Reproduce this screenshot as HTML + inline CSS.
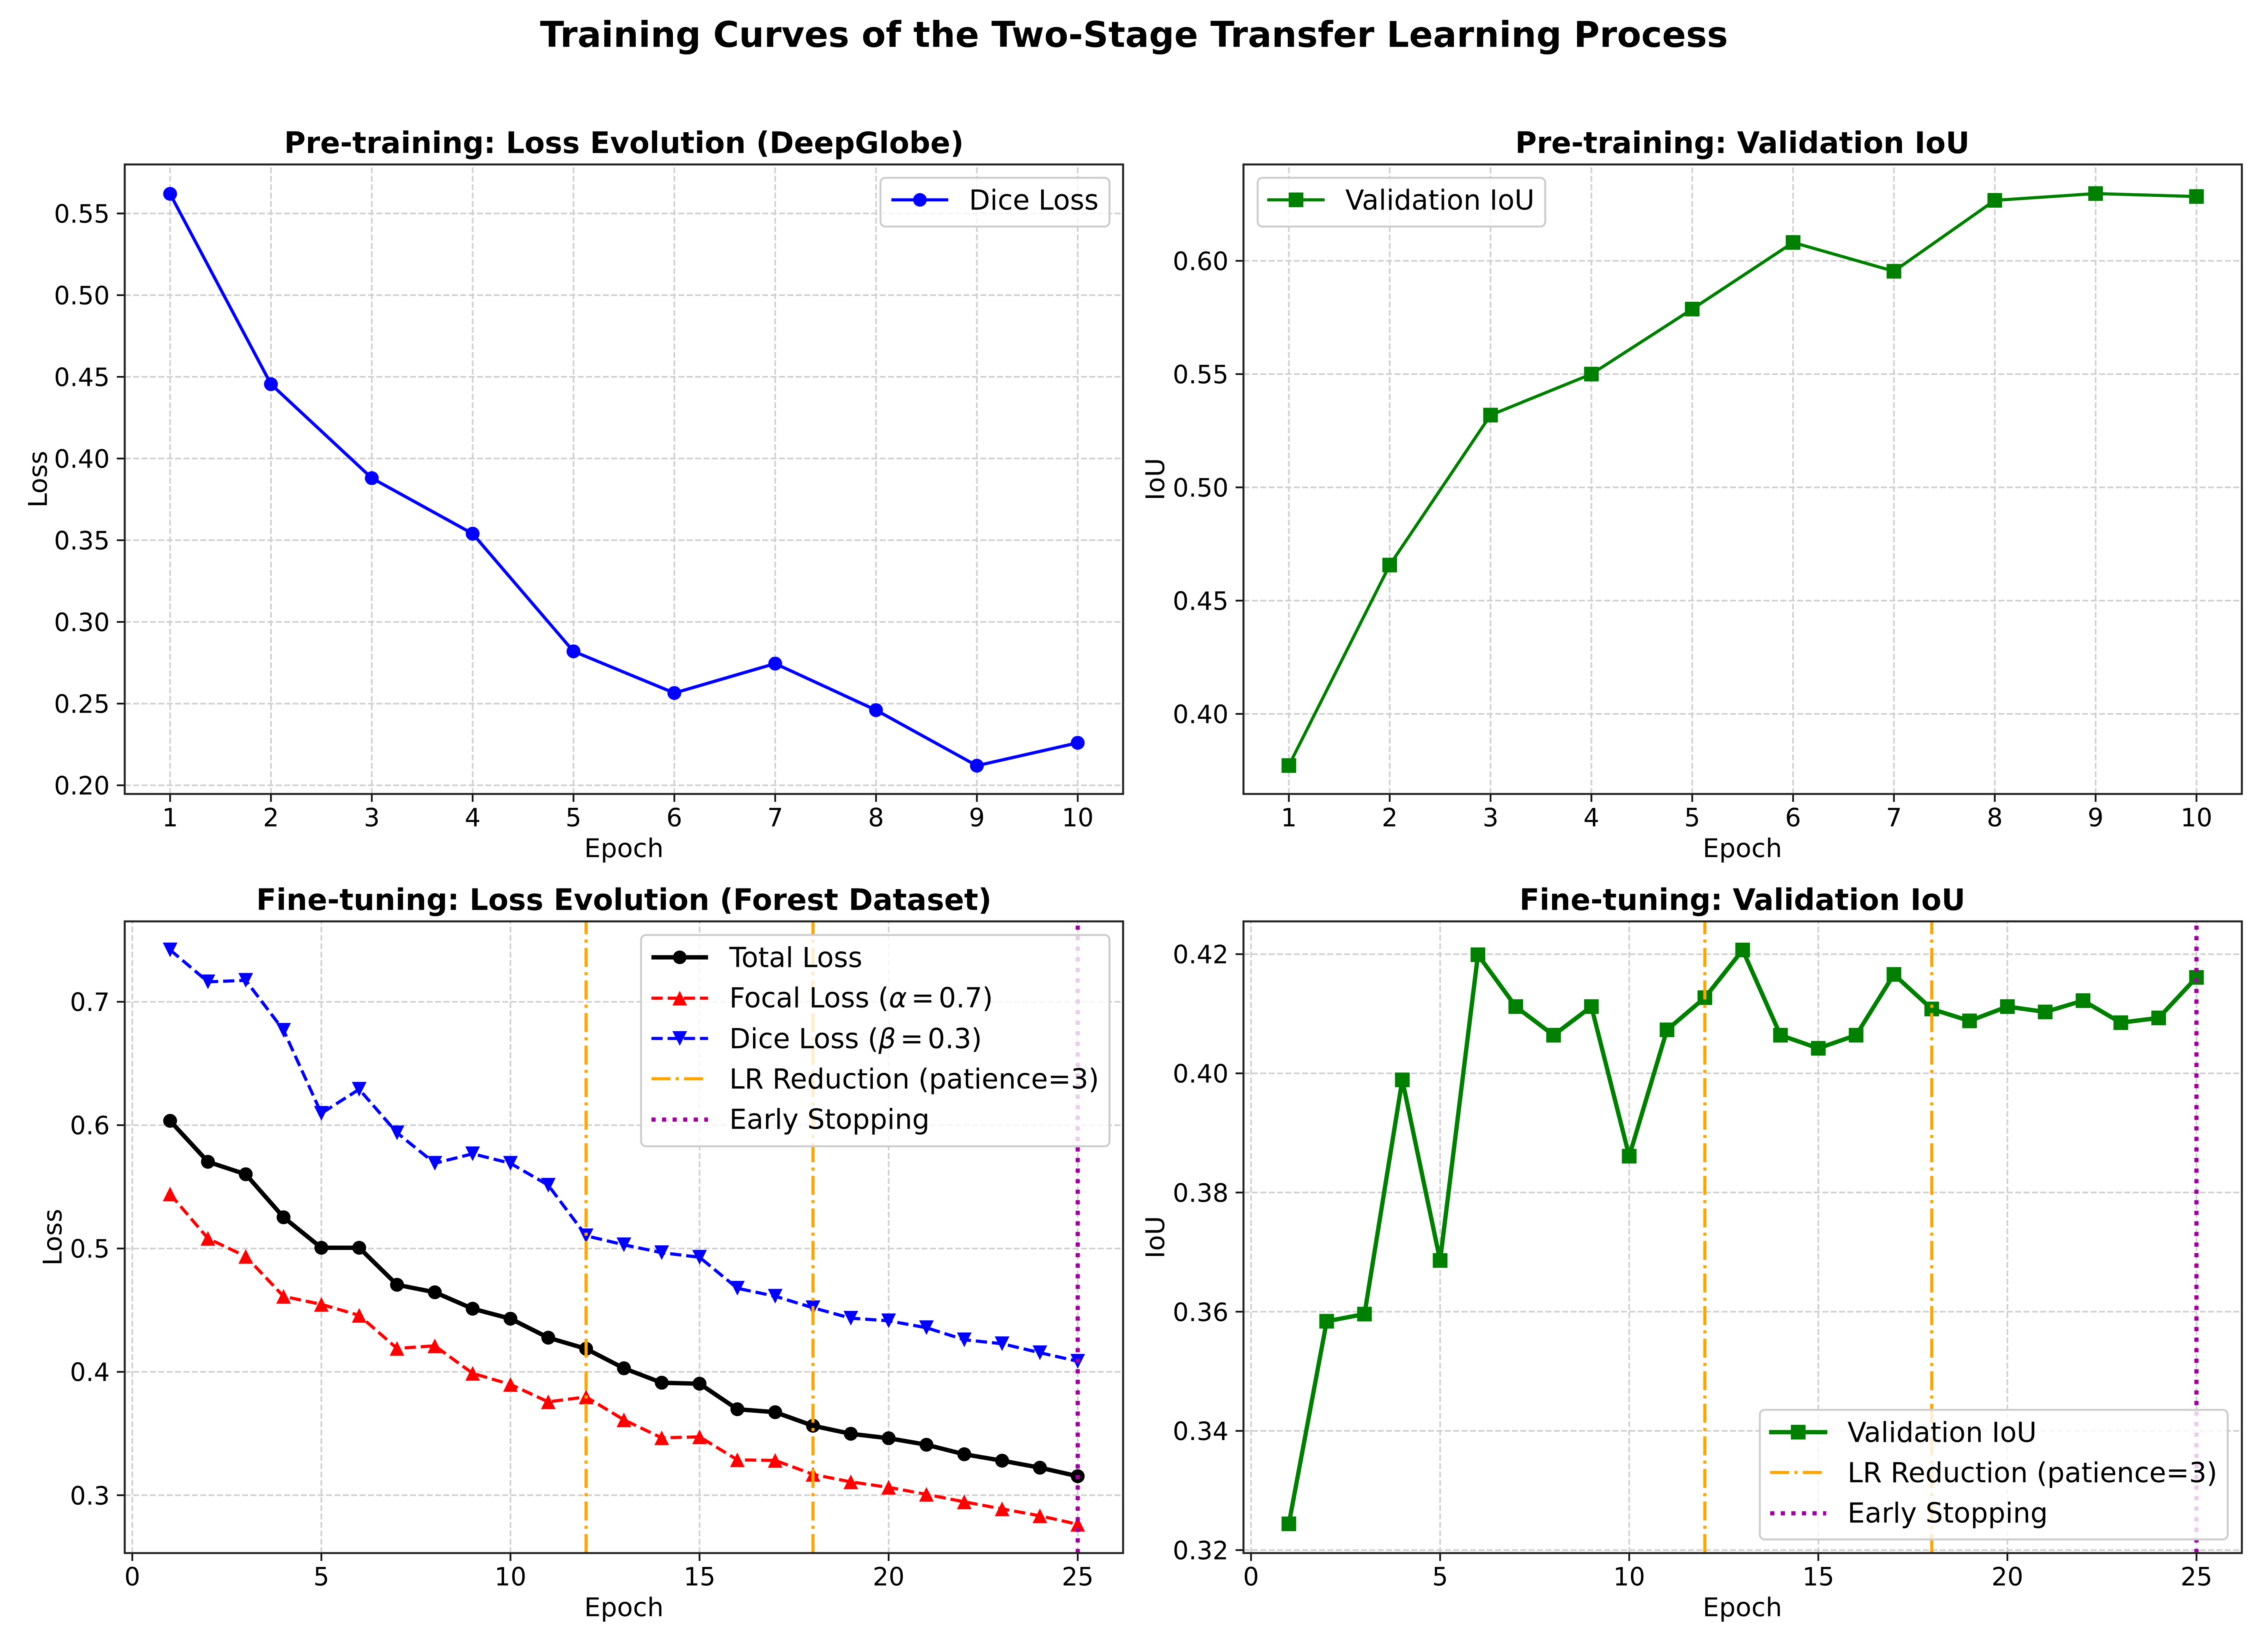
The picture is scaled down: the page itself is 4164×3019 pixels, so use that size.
<!DOCTYPE html>
<html lang="en">
<head>
<meta charset="utf-8">
<title>Training Curves of the Two-Stage Transfer Learning Process</title>
<style>
html,body{margin:0;padding:0;background:#fff;}
svg{display:block;filter:blur(0.9px);}
text{font-family:"DejaVu Sans","Liberation Sans",sans-serif;fill:#000;}
.sup{font-size:64.7px;font-weight:700;text-anchor:middle;}
.ttl{font-size:54px;font-weight:700;text-anchor:middle;}
.lab{font-size:47.6px;text-anchor:middle;}
.leg{font-size:50.4px;}
.box{fill:rgba(255,255,255,.8);stroke:#ccc;stroke-width:3.5;}
</style>
</head>
<body>
<svg xmlns="http://www.w3.org/2000/svg" width="4164" height="3019" viewBox="0 0 4164 3019">
<rect width="4164" height="3019" fill="#fff"/>
<text class="sup" x="2082" y="86">Training Curves of the Two-Stage Transfer Learning Process</text>

<g id="panel-a">
<text class="ttl" x="1145.5" y="281">Pre-training: Loss Evolution (DeepGlobe)</text>
<text class="lab" x="1145.5" y="1574">Epoch</text>
<text class="lab" transform="translate(86 880) rotate(-90)">Loss</text>
<g class="plot"></g>
<g>
<rect class="box" x="1616.5" y="326.5" width="420.5" height="89.5" rx="9"/>
<g>
<line x1="1636.5" x2="1741" y1="367" y2="367" stroke="#0000ff" stroke-width="5.8"/>
<circle cx="1689" cy="367" r="12.5" fill="#0000ff"/>
<text class="leg" x="1779" y="385">Dice Loss</text>
</g>
</g>
</g>

<g id="panel-b">
<text class="ttl" x="3199" y="281">Pre-training: Validation IoU</text>
<text class="lab" x="3199" y="1574">Epoch</text>
<text class="lab" transform="translate(2137.5 880) rotate(-90)">IoU</text>
<g class="plot"></g>
<g>
<rect class="box" x="2309" y="326.5" width="528" height="89.5" rx="9"/>
<g>
<line x1="2326.5" x2="2432" y1="367" y2="367" stroke="#008000" stroke-width="5.8"/>
<rect x="2366" y="353.5" width="27" height="27" fill="#008000"/>
<text class="leg" x="2470" y="385">Validation IoU</text>
</g>
</g>
</g>

<g id="panel-c">
<text class="ttl" x="1145.5" y="1671">Fine-tuning: Loss Evolution (Forest Dataset)</text>
<text class="lab" x="1145.5" y="2968">Epoch</text>
<text class="lab" transform="translate(113 2272) rotate(-90)">Loss</text>
<g class="plot"></g>
<g>
<rect class="box" x="1177" y="1717" width="860" height="388" rx="9"/>
<g>
<line x1="1196" x2="1300" y1="1758" y2="1758" stroke="#000" stroke-width="8"/>
<circle cx="1248" cy="1758" r="12.5" fill="#000"/>
<text class="leg" x="1339" y="1776">Total Loss</text>
</g>
<g>
<line x1="1196" x2="1300" y1="1833" y2="1833" stroke="#ff0000" stroke-width="5.8" stroke-dasharray="20.7 9"/>
<polygon points="1248,1819.5 1261.5,1846.5 1234.5,1846.5" fill="#ff0000"/>
<text class="leg" x="1339" y="1850">Focal Loss (<tspan font-style="italic">α</tspan><tspan dx="8">=</tspan><tspan dx="8">0.7)</tspan></text>
</g>
<g>
<line x1="1196" x2="1300" y1="1907" y2="1907" stroke="#0000ff" stroke-width="5.8" stroke-dasharray="20.7 9"/>
<polygon points="1248,1920.5 1261.5,1893.5 1234.5,1893.5" fill="#0000ff"/>
<text class="leg" x="1339" y="1925">Dice Loss (<tspan font-style="italic">β</tspan><tspan dx="8">=</tspan><tspan dx="8">0.3)</tspan></text>
</g>
<g>
<line x1="1196" x2="1300" y1="1981" y2="1981" stroke="#ffa500" stroke-width="5.8" stroke-dasharray="35 9.5 5.8 9.5"/>
<text class="leg" x="1339" y="1999">LR Reduction (patience=3)</text>
</g>
<g>
<line x1="1196" x2="1300" y1="2056" y2="2056" stroke="#a000a0" stroke-width="7.8" stroke-dasharray="7.8 11.6"/>
<text class="leg" x="1339" y="2073">Early Stopping</text>
</g>
</g>
</g>

<g id="panel-d">
<text class="ttl" x="3199" y="1671">Fine-tuning: Validation IoU</text>
<text class="lab" x="3199" y="2968">Epoch</text>
<text class="lab" transform="translate(2137.5 2272) rotate(-90)">IoU</text>
<g class="plot"></g>
<g>
<rect class="box" x="3231" y="2589" width="859" height="238" rx="9"/>
<g>
<line x1="3248" x2="3355" y1="2630" y2="2630" stroke="#008000" stroke-width="8"/>
<rect x="3288" y="2616.5" width="27" height="27" fill="#008000"/>
<text class="leg" x="3392" y="2648">Validation IoU</text>
</g>
<g>
<line x1="3250" x2="3351" y1="2704" y2="2704" stroke="#ffa500" stroke-width="5.8" stroke-dasharray="35 9.5 5.8 9.5"/>
<text class="leg" x="3392" y="2722">LR Reduction (patience=3)</text>
</g>
<g>
<line x1="3250" x2="3353" y1="2779" y2="2779" stroke="#a000a0" stroke-width="7.8" stroke-dasharray="7.8 11.6"/>
<text class="leg" x="3392" y="2796">Early Stopping</text>
</g>
</g>
</g>
</svg>

<script>
// ---- chart data ----
const preEpochs = [1,2,3,4,5,6,7,8,9,10];
const preDiceLoss = [0.562,0.4455,0.388,0.354,0.282,0.2565,0.2745,0.246,0.212,0.226];
const preValIoU = [0.3772,0.4657,0.5319,0.5500,0.5787,0.6081,0.5954,0.6267,0.6297,0.6284];
const fineEpochs = [1,2,3,4,5,6,7,8,9,10,11,12,13,14,15,16,17,18,19,20,21,22,23,24,25];
const fineTotalLoss = [0.6035,0.5703,0.5602,0.5253,0.5006,0.5006,0.4706,0.4645,0.4512,0.4431,0.4277,0.4187,0.4029,0.3912,0.3904,0.3697,0.3673,0.3563,0.3498,0.3462,0.3409,0.3332,0.3280,0.3223,0.3154];
const fineFocalLoss = [0.5442,0.5082,0.4936,0.4612,0.4547,0.4458,0.4190,0.4211,0.3988,0.3898,0.3757,0.3797,0.3611,0.3465,0.3473,0.3287,0.3282,0.3169,0.3108,0.3064,0.3007,0.2946,0.2889,0.2833,0.2764];
const fineDiceLoss = [0.7421,0.7162,0.7174,0.6769,0.6096,0.6291,0.5938,0.5691,0.5768,0.5691,0.5513,0.5103,0.5030,0.4966,0.4929,0.4678,0.4613,0.4520,0.4435,0.4414,0.4358,0.4260,0.4228,0.4155,0.4086];
const fineValIoU = [0.3244,0.3584,0.3596,0.3989,0.3686,0.4199,0.4112,0.4064,0.4112,0.3861,0.4073,0.4127,0.4207,0.4064,0.4042,0.4064,0.4166,0.4108,0.4088,0.4112,0.4103,0.4122,0.4085,0.4093,0.4161];
const lrReductionEpochs = [12,18];
const earlyStopEpochs = [25];
const preXTicks = [1,2,3,4,5,6,7,8,9,10];
const fineXTicks = [0,5,10,15,20,25];
const lossAYTicks = [0.20,0.25,0.30,0.35,0.40,0.45,0.50,0.55];
const iouBYTicks = [0.40,0.45,0.50,0.55,0.60];
const lossCYTicks = [0.3,0.4,0.5,0.6,0.7];
const iouDYTicks = [0.32,0.34,0.36,0.38,0.40,0.42];

const NS = 'http://www.w3.org/2000/svg';
function mk(tag, attrs, parent) {
  const n = document.createElementNS(NS, tag);
  for (const k in attrs) n.setAttribute(k, attrs[k]);
  parent.appendChild(n);
  return n;
}
function linear(domain, range) {
  return v => range[0] + (v - domain[0]) / (domain[1] - domain[0]) * (range[1] - range[0]);
}

function axes(panelId, box, xDom, yDom, xTicks, yTicks, yDigits) {
  const plot = document.querySelector('#' + panelId + ' .plot');
  const x = linear(xDom, [box.l, box.r]);
  const y = linear(yDom, [box.b, box.t]);
  const gridLayer = mk('g', {}, plot);
  
  
  const seriesLayer = mk('g', {}, plot);
  
  
  const eventLayer = mk('g', {}, plot);
  
  
  const axisLayer = mk('g', {}, plot);
  
  

  xTicks.forEach(v => {
    const px = x(v);
    const g = mk('line', {x1:px, x2:px, y1:box.b, y2:box.t, stroke:'#d0d0d0', 'stroke-width':3, 'stroke-dasharray':'11 4.4'}, gridLayer);
    
    
    const t = mk('line', {x1:px, x2:px, y1:box.b, y2:box.b + 14.5, stroke:'#111', 'stroke-width':3.2}, axisLayer);
    
    
    const lab = mk('text', {x:px, y:box.b + 59.7, 'font-size':46, 'text-anchor':'middle'}, axisLayer);
    
    
    lab.textContent = String(v);
  });
  yTicks.forEach(v => {
    const py = y(v);
    const g = mk('line', {x1:box.l, x2:box.r, y1:py, y2:py, stroke:'#d0d0d0', 'stroke-width':3, 'stroke-dasharray':'11 4.4'}, gridLayer);
    
    
    const t = mk('line', {x1:box.l - 14.5, x2:box.l, y1:py, y2:py, stroke:'#111', 'stroke-width':3.2}, axisLayer);
    
    
    const lab = mk('text', {x:box.l - 27.5, y:py + 17, 'font-size':46, 'text-anchor':'end'}, axisLayer);
    
    
    lab.textContent = v.toFixed(yDigits);
  });
  const frame = mk('rect', {x:box.l, y:box.t, width:box.r - box.l, height:box.b - box.t, fill:'none', stroke:'#222', 'stroke-width':3.6}, axisLayer);
  
  
  return {x, y, box, seriesLayer, eventLayer};
}

function series(ax, xs, ys, color, lw, dash, marker, size) {
  const grp = mk('g', {}, ax.seriesLayer);
  
  
  const pts = xs.map((v, i) => ax.x(v).toFixed(1) + ',' + ax.y(ys[i]).toFixed(1)).join(' ');
  const line = mk('polyline', {points:pts, fill:'none', stroke:color, 'stroke-width':lw, 'stroke-linejoin':'round', 'stroke-linecap':dash ? 'butt' : 'square'}, grp);
  if (dash) line.setAttribute('stroke-dasharray', dash);
  
  
  xs.forEach((v, i) => {
    const px = ax.x(v), py = ax.y(ys[i]), h = size / 2;
    let m;
    if (marker === 'circle') m = mk('circle', {cx:px, cy:py, r:h, fill:color}, grp);
    else if (marker === 'square') m = mk('rect', {x:px - h, y:py - h, width:size, height:size, fill:color}, grp);
    else if (marker === 'up') m = mk('polygon', {points:[px, py - h, px + h, py + h, px - h, py + h].join(' '), fill:color}, grp);
    else m = mk('polygon', {points:[px, py + h, px + h, py - h, px - h, py - h].join(' '), fill:color}, grp);
    
    
  });
}

function eventLine(ax, epoch, color, lw, dash) {
  const px = ax.x(epoch);
  const l = mk('line', {x1:px, x2:px, y1:ax.box.b, y2:ax.box.t, stroke:color, 'stroke-width':lw, 'stroke-dasharray':dash}, ax.eventLayer);
  
  
}

const boxA = {l:229, r:2062, t:302, b:1458};
const boxB = {l:2283, r:4116, t:302, b:1458};
const boxC = {l:229, r:2062, t:1692, b:2852};
const boxD = {l:2283, r:4116, t:1692, b:2852};

const axA = axes('panel-a', boxA, [0.55,10.45], [0.1947,0.58], preXTicks, lossAYTicks, 2);
series(axA, preEpochs, preDiceLoss, '#0000ff', 5.8, null, 'circle', 25.5);

const axB = axes('panel-b', boxB, [0.55,10.45], [0.36466,0.64255], preXTicks, iouBYTicks, 2);
series(axB, preEpochs, preValIoU, '#008000', 5.8, null, 'square', 27);

const axC = axes('panel-c', boxC, [-0.2,26.2], [0.2531,0.7652], fineXTicks, lossCYTicks, 1);
series(axC, fineEpochs, fineTotalLoss, '#000000', 8, null, 'circle', 25.5);
series(axC, fineEpochs, fineFocalLoss, '#ff0000', 5.8, '20.7 9', 'up', 27);
series(axC, fineEpochs, fineDiceLoss, '#0000ff', 5.8, '20.7 9', 'down', 27);
lrReductionEpochs.forEach(e => eventLine(axC, e, '#ffa500', 5.8, '35 9.5 5.8 9.5'));
earlyStopEpochs.forEach(e => eventLine(axC, e, '#a000a0', 7.8, '7.8 11.6'));

const axD = axes('panel-d', boxD, [-0.2,26.2], [0.3195,0.4255], fineXTicks, iouDYTicks, 2);
series(axD, fineEpochs, fineValIoU, '#008000', 8, null, 'square', 27);
lrReductionEpochs.forEach(e => eventLine(axD, e, '#ffa500', 5.8, '35 9.5 5.8 9.5'));
earlyStopEpochs.forEach(e => eventLine(axD, e, '#a000a0', 7.8, '7.8 11.6'));
</script>
</body>
</html>
